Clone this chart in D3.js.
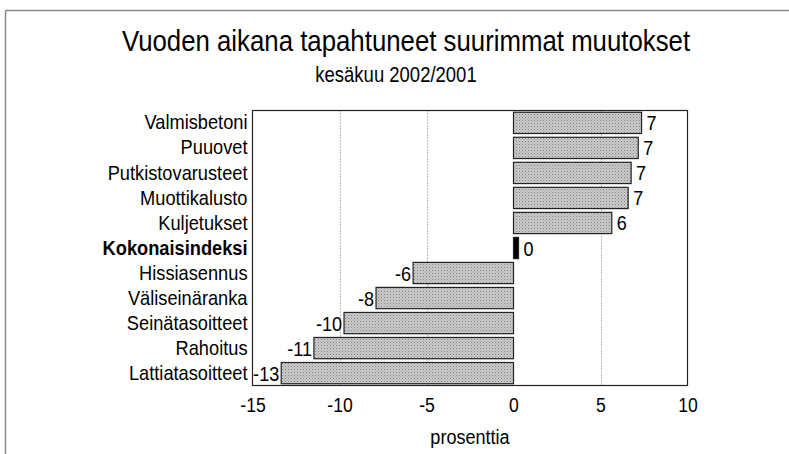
<!DOCTYPE html>
<html>
<head>
<meta charset="utf-8">
<script src="https://cdn.jsdelivr.net/npm/d3@7"></script>
<style>
  body { margin: 0; background: #fff; }
  svg text { font-family: "Liberation Sans Narrow", "Arial Narrow", "Liberation Sans", sans-serif; fill: #000; }
</style>
</head>
<body>
<svg id="chart"></svg>
<script>
    var categories = ["Valmisbetoni", "Puuovet", "Putkistovarusteet", "Muottikalusto", "Kuljetukset",
                      "Kokonaisindeksi", "Hissiasennus", "Väliseinäranka", "Seinätasoitteet", "Rahoitus", "Lattiatasoitteet"];
    var values = [7.36, 7.17, 6.76, 6.59, 5.65, 0.29, -5.77, -7.9, -9.74, -11.47, -13.35];
    var valueLabels = ["7", "7", "7", "7", "6", "0", "-6", "-8", "-10", "-11", "-13"];
    var xTicks = [-15, -10, -5, 0, 5, 10];
    var gridTicks = [-10, -5, 5];
    var highlight = "Kokonaisindeksi";

    var width = 789, height = 454;
    var plotLeft = 252.5, plotRight = 687.5, plotTop = 110.5, plotBottom = 385.5;
    var narrow = "scale(0.86,1)";   // no narrow font installed, squeeze the text instead

    var svg = d3.select("#chart").attr("width", width).attr("height", height);

    function label(x, y, txt, size, anchor) {
        return svg.append("text")
            .attr("transform", "translate(" + x + "," + y + ") " + narrow)
            .attr("text-anchor", anchor || "middle")
            .style("font-size", size + "px")
            .text(txt);
    }

    // dotted fill like the printed screen
    var pat = svg.append("defs").append("pattern")
        .attr("id", "dots").attr("width", 3).attr("height", 3)
        .attr("patternUnits", "userSpaceOnUse");
    pat.append("rect").attr("width", 3).attr("height", 3).attr("fill", "#cbcbcb");
    pat.append("rect").attr("width", 1).attr("height", 1).attr("fill", "#808080");
    pat.append("rect").attr("x", 1.5).attr("y", 1.5).attr("width", 1).attr("height", 1).attr("fill", "#999");

    // outer frame (top and left only visible)
    svg.append("line").attr("x1", 5.5).attr("x2", width).attr("y1", 10.5).attr("y2", 10.5)
        .attr("stroke", "#888").attr("stroke-width", 1.5);
    svg.append("line").attr("x1", 5.5).attr("x2", 5.5).attr("y1", 10.5).attr("y2", height)
        .attr("stroke", "#888").attr("stroke-width", 1.5);

    label(406, 51, "Vuoden aikana tapahtuneet suurimmat muutokset", 30);
    label(396, 82, "kesäkuu 2002/2001", 21.5);

    var x = d3.scaleLinear().domain([-15, 10]).range([plotLeft, plotRight]);
    var y = d3.scaleBand().domain(categories).range([plotTop, plotBottom]).paddingInner(0.15).paddingOuter(0.07);

    // grid
    svg.append("g").selectAll("line").data(gridTicks).enter().append("line")
        .attr("x1", function(d) { return Math.round(x(d)) + 0.5; })
        .attr("x2", function(d) { return Math.round(x(d)) + 0.5; })
        .attr("y1", plotTop).attr("y2", plotBottom)
        .attr("stroke", "#777").attr("stroke-dasharray", "1,2");

    // bars
    svg.append("g").selectAll("rect").data(values).enter().append("rect")
        .attr("x", function(d) { return x(Math.min(0, d)); })
        .attr("y", function(d, i) { return y(categories[i]); })
        .attr("width", function(d) { return Math.abs(x(d) - x(0)); })
        .attr("height", y.bandwidth())
        .attr("fill", function(d, i) { return categories[i] == highlight ? "#000" : "url(#dots)"; })
        .attr("stroke", "#222").attr("stroke-width", 1.2);

    // value labels
    values.forEach(function(d, i) {
        label(d >= 0 ? x(d) + 5 : x(d) - 2, y(categories[i]) + y.bandwidth() / 2 + 7.5,
              valueLabels[i], 21, d >= 0 ? "start" : "end");
    });

    // plot frame
    svg.append("rect").attr("x", plotLeft).attr("y", plotTop)
        .attr("width", plotRight - plotLeft).attr("height", plotBottom - plotTop)
        .attr("fill", "none").attr("stroke", "#222").attr("stroke-width", 1.2);

    // x axis
    var xAxis = svg.append("g").attr("transform", "translate(0," + plotBottom + ")")
        .call(d3.axisBottom(x).tickValues(xTicks).tickSize(0).tickPadding(12)
              .tickFormat(function(d) { return String(d); }));
    xAxis.select(".domain").remove();
    xAxis.selectAll("text").style("font-size", "20.5px").attr("fill", "#000").attr("transform", narrow);

    // y axis labels
    var yAxis = svg.append("g").attr("transform", "translate(" + (plotLeft - 5) + ",0)")
        .call(d3.axisLeft(y).tickSize(0).tickPadding(0));
    yAxis.select(".domain").remove();
    yAxis.selectAll("text").style("font-size", "20.5px").attr("fill", "#000").attr("transform", "scale(0.89,1)")
        .style("font-weight", function(d) { return d == highlight ? "bold" : "normal"; });

    label(470, 444, "prosenttia", 21);
</script>
</body>
</html>
